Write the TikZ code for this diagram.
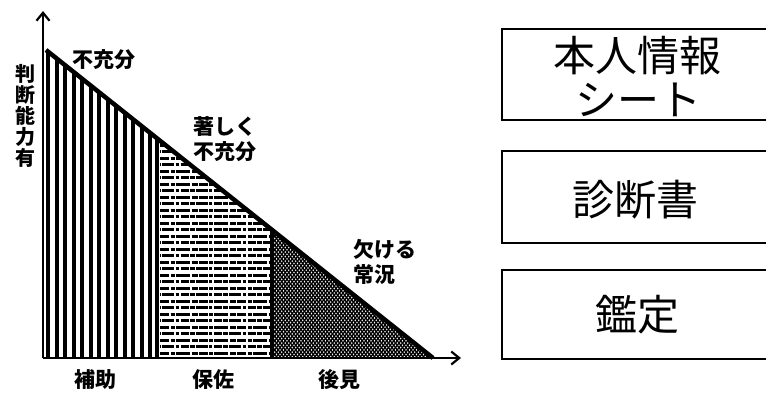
\documentclass[tikz,border=0pt]{standalone}
\usepackage{fontspec}
\usetikzlibrary{arrows.meta}
\newfontfamily\jp{Noto Sans CJK JP}
\begin{document}
\begin{tikzpicture}[x=1pt,y=-1pt,
  axis/.style={line width=2.4pt,-{Straight Barb[length=8pt,width=13pt,line width=2.2pt]}},
  lbl/.style={font=\jp\bfseries\fontsize{21}{25}\selectfont,inner sep=0pt,align=left},
  boxtxt/.style={font=\jp\fontsize{42}{44}\selectfont,inner sep=0pt},
  frame/.style={line width=2.6pt}]
\useasboundingbox (0,0) rectangle (766,392);
% key points
\coordinate (O) at (43,358);
\coordinate (Ytop) at (43,11);
\coordinate (Xend) at (461,358);
\coordinate (A) at (46,50);
\coordinate (E) at (433,358);
\coordinate (P1) at (157,138.3);
\coordinate (B1) at (157,358);
\coordinate (P2) at (272,229.9);
\coordinate (B2) at (272,358);
% region 1: vertical stripes
\begin{scope}
  \clip (A) -- (P1) -- (B1) -- (43,358) -- (43,50) -- cycle;
  \foreach \x in {48,56.5,...,156} \draw[line width=4pt] (\x,40) -- (\x,360);
\end{scope}
% region 2: broken horizontal lines
\begin{scope}
  \clip (159,139.9) -- (P2) -- (B2) -- (159,358) -- cycle;
  \foreach \y [count=\i] in {145,151.5,...,356} {
    \ifodd\i
      \draw[line width=3pt,dash pattern=on 9pt off 1.5pt on 4pt off 1pt on 14pt off 2pt on 6pt off 1pt] (160,\y) -- (270,\y);
    \else
      \draw[line width=3pt,dash pattern=on 5pt off 1pt on 12pt off 1.5pt on 3pt off 2pt on 8pt off 1pt,dash phase=4pt] (160,\y) -- (270,\y);
    \fi
  }
\end{scope}
% region 3: dense crosshatch
\begin{scope}
  \clip (P2) -- (E) -- (B2) -- cycle;
  \foreach \k in {-140,-136.5,...,180} {
    \draw[line width=1.3pt] (272+\k,358) -- (372+\k,228);
    \draw[line width=1.3pt] (272+\k,228) -- (372+\k,358);
  }
\end{scope}
% region borders
\draw[line width=4pt] (P1) -- (B1);
\draw[line width=4pt] (P2) -- (B2);
\draw[line width=4.5pt] (A) -- (E);
% axes
\draw[axis] (O) -- (Ytop);
\draw[axis] (O) -- (Xend);
% chart labels
\node[lbl,anchor=west] (t1) at (72,60) {不充分};
\node[lbl,anchor=west] (t2) at (193,139) {著しく\\不充分};
\node[lbl,anchor=west] (t3) at (353,262) {欠ける\\常況};
\node[lbl,align=center,font=\jp\bfseries\fontsize{20}{20.8}\selectfont] (yl) at (26,116) {判\\断\\能\\力\\有};
\node[lbl] (b1) at (95,380) {補助};
\node[lbl] (b2) at (213,380) {保佐};
\node[lbl] (b3) at (339,380) {後見};
% right boxes (open on the right, cut by the page edge)
\draw[frame] (775,29) -- (502,29) -- (502,120) -- (775,120);
\draw[frame] (775,151) -- (502,151) -- (502,243) -- (775,243);
\draw[frame] (775,270) -- (502,270) -- (502,359) -- (775,359);
\node[boxtxt] (r1) at (637,56) {本人情報};
\node[boxtxt] (r2) at (638,100) {シート};
\node[boxtxt] (r3) at (635,200) {診断書};
\node[boxtxt] (r4) at (637,315) {鑑定};
\end{tikzpicture}
\end{document}
